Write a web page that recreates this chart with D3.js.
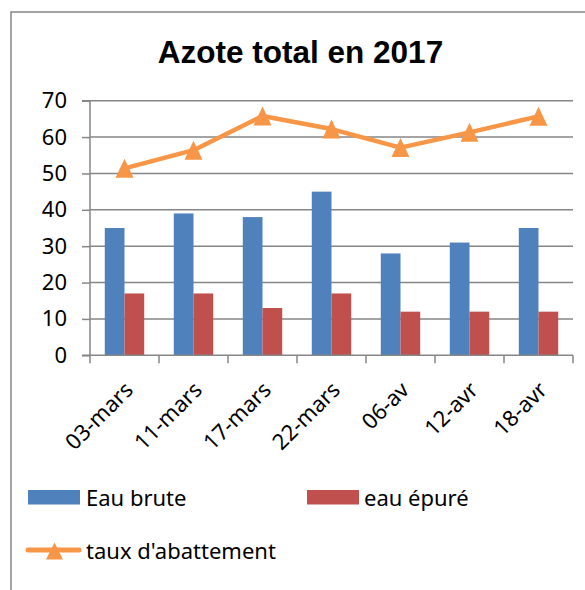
<!DOCTYPE html>
<html><head><meta charset="utf-8">
<script src="https://cdn.jsdelivr.net/npm/d3@7"></script>
<style>body{margin:0;background:#fff}svg{display:block}</style>
</head><body>
<script>
const categories = ["03-mars","11-mars","17-mars","22-mars","06-av","12-avr","18-avr"];
const eauBrute = [35,39,38,45,28,31,35];
const eauEpure = [17,17,13,17,12,12,12];
const tauxAbattement = [51.4,56.4,65.8,62.2,57.1,61.3,65.7];
const yTicks = [0,10,20,30,40,50,60,70];
const seriesNames = ["Eau brute","eau épuré","taux d'abattement"];
const colors = ["#4F81BD","#C0504D","#F79646"];

const W=585,H=590;
const svg=d3.select("body").append("svg").attr("width",W).attr("height",H);
const font='"Noto Sans", sans-serif';

// frame
svg.append("path").attr("d","M11,590 V12 H585").attr("fill","none").attr("stroke","#868686").attr("stroke-width",1.5);

svg.append("text").attr("x",300.5).attr("y",62.5).attr("text-anchor","middle")
  .attr("font-family","'Liberation Sans', Arial, sans-serif").attr("font-weight","bold").attr("font-size",31.5)
  .text("Azote total en 2017");

const x0=90,x1=573,yTop=100.7,yBot=355.3;
const x=d3.scaleBand().domain(categories).range([x0,x1]);
const y=d3.scaleLinear().domain([0,70]).range([yBot,yTop]);
const bw=x.bandwidth()/3.5;

// gridlines
svg.append("g").selectAll("line").data(yTicks.filter(d=>d>0)).join("line")
  .attr("x1",x0).attr("x2",x1).attr("y1",d=>y(d)).attr("y2",d=>y(d))
  .attr("stroke","#868686").attr("stroke-width",1.5);

// bars
const g=svg.append("g");
categories.forEach((c,i)=>{
  const cx=x(c)+x.bandwidth()/2;
  g.append("rect").attr("x",cx-bw).attr("width",bw).attr("y",y(eauBrute[i])).attr("height",yBot-y(eauBrute[i]))
    .attr("fill",colors[0]);
  g.append("rect").attr("x",cx).attr("width",bw).attr("y",y(eauEpure[i])).attr("height",yBot-y(eauEpure[i]))
    .attr("fill",colors[1]);
});

// axes
const yAxis=d3.axisLeft(y).tickValues(yTicks).tickSize(8).tickPadding(15);
const ya=svg.append("g").attr("transform",`translate(${x0},0)`).call(yAxis);
ya.select(".domain").attr("stroke","#868686").attr("stroke-width",1.5).attr("d",`M-8,${yTop}H0V${yBot}H-8`);
ya.selectAll(".tick line").attr("stroke","#868686").attr("stroke-width",1.5);
ya.selectAll("text").attr("font-family",font).attr("font-size",22).attr("fill","#000");

const xa=svg.append("g").attr("transform",`translate(0,${yBot})`);
xa.append("line").attr("x1",x0).attr("x2",x1).attr("stroke","#868686").attr("stroke-width",1.5);
xa.selectAll("line.t").data(d3.range(categories.length+1)).join("line").attr("class","t")
  .attr("x1",i=>x0+i*x.step()).attr("x2",i=>x0+i*x.step()).attr("y1",0).attr("y2",8)
  .attr("stroke","#868686").attr("stroke-width",1.5);
xa.selectAll("text").data(categories).join("text")
  .attr("transform",d=>`translate(${x(d)+x.bandwidth()/2+10},${36}) rotate(-45)`)
  .attr("text-anchor","end").attr("font-family",font).attr("font-size",22).attr("fill","#000")
  .text(d=>d);

// line
const line=d3.line().x((d,i)=>x(categories[i])+x.bandwidth()/2).y(d=>y(d));
svg.append("path").datum(tauxAbattement).attr("d",line).attr("fill","none")
  .attr("stroke",colors[2]).attr("stroke-width",4.5).attr("stroke-linejoin","round");
const tri=(w,h)=>`M0,${-h/2}L${w/2},${h/2}L${-w/2},${h/2}Z`;
svg.append("g").selectAll("path").data(tauxAbattement).join("path")
  .attr("transform",(d,i)=>`translate(${x(categories[i])+x.bandwidth()/2},${y(d)})`)
  .attr("d",tri(18,19)).attr("fill",colors[2]);

// legend
const lg=svg.append("g").attr("font-family",font).attr("font-size",22);
lg.append("rect").attr("x",28).attr("y",490).attr("width",52).attr("height",14.5).attr("fill",colors[0]);
lg.append("text").attr("x",86).attr("y",505.5).text(seriesNames[0]);
lg.append("rect").attr("x",307).attr("y",490).attr("width",52).attr("height",14.5).attr("fill",colors[1]);
lg.append("text").attr("x",364).attr("y",505.5).text(seriesNames[1]);
lg.append("line").attr("x1",28).attr("x2",79).attr("y1",550).attr("y2",550).attr("stroke",colors[2]).attr("stroke-width",5).attr("stroke-linecap","round");
lg.append("path").attr("transform","translate(54.5,551)").attr("d",tri(17,17)).attr("fill",colors[2]);
lg.append("text").attr("x",86).attr("y",559).text(seriesNames[2]);
</script>
</body></html>
